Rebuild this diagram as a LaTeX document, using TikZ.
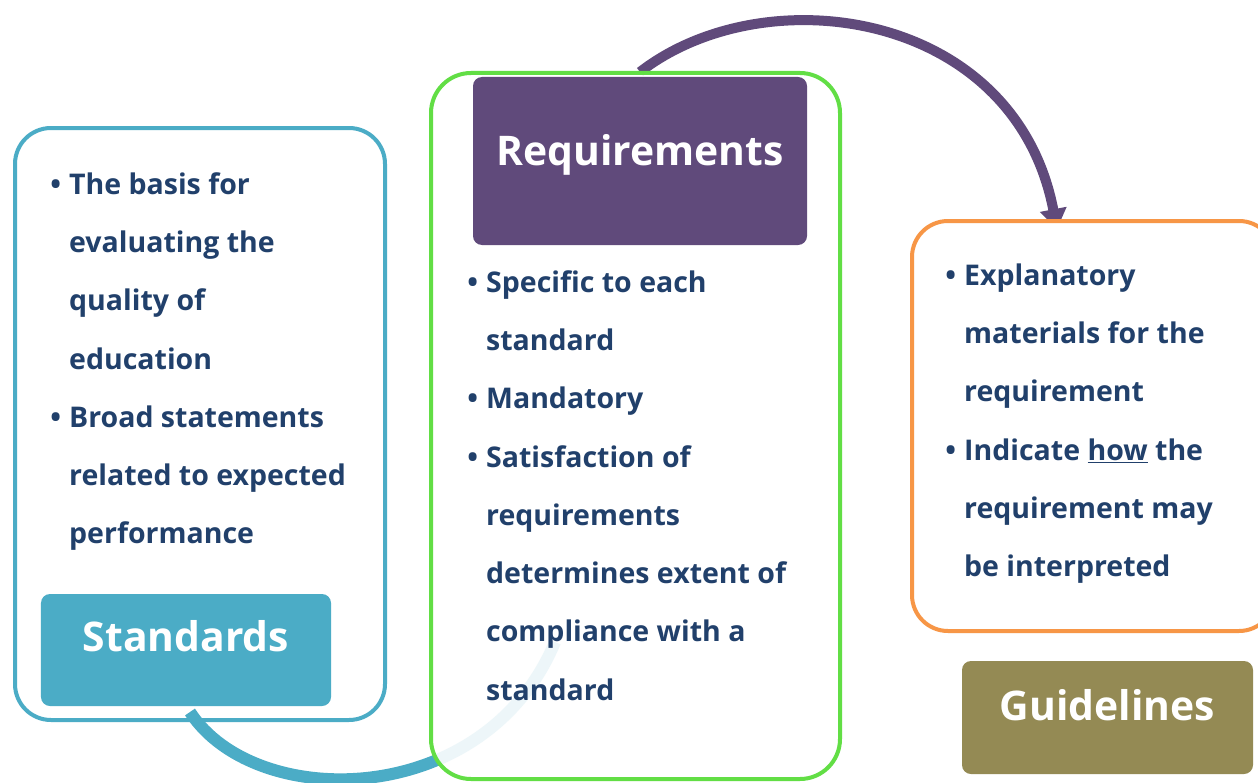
\documentclass[tikz,border=0pt]{standalone}
\usepackage{fontspec}
\setmainfont{Open Sans}
\usetikzlibrary{arrows.meta}
\definecolor{stdblue}{HTML}{4BACC6}
\definecolor{reqgreen}{HTML}{62DE45}
\definecolor{reqpurple}{HTML}{604A7B}
\definecolor{guiorange}{HTML}{F79646}
\definecolor{guiolive}{HTML}{948A54}
\definecolor{bodytext}{HTML}{21406B}
\newcommand{\blt}{\makebox[0pt][r]{\textbullet\hspace{8bp}}}
\newcommand{\firststrut}{\rule{0pt}{30bp}}
\begin{document}
\begin{tikzpicture}[x=1bp,y=-1bp,
  outerbox/.style={draw, line width=4bp, rounded corners=36bp},
  labelbox/.style={rounded corners=9bp, text=white, font=\fontsize{41}{41}\selectfont\bfseries, inner sep=0pt, align=center},
  bodytxt/.style={anchor=north west, align=left, text=bodytext, font=\fontsize{28.6}{58.5}\selectfont\bfseries, inner sep=0pt},
]
\useasboundingbox (0,0) rectangle (1258,783);
\clip (0,0) rectangle (1258,783);
\fill[white] (0,0) rectangle (1258,783);

% named anchor coordinates for the connectors
\coordinate (stdfoot) at (190,712);
\coordinate (reqin) at (555,642);
\coordinate (reqtop) at (640,72);
\coordinate (guitop) at (1057,229);

% blue connector Standards -> Requirements
\draw[stdblue, line width=12bp] (stdfoot) .. controls (255,812) and (485,810) .. (reqin);

% purple connector Requirements -> Guidelines
\draw[reqpurple, line width=10bp, -{Triangle[width=26bp,length=20bp]}]
  (reqtop) .. controls (765,-25) and (1015,10) .. (guitop);

% outer boxes
\draw[outerbox, stdblue] (15,128) rectangle (385,720);
\draw[outerbox, reqgreen, fill=white, fill opacity=0.9, rounded corners=40bp] (431,73) rectangle (840,779);
\draw[outerbox, guiorange, fill=white] (912,221) rectangle (1275,631);

% title boxes
\node[labelbox, fill=stdblue, minimum width=290bp, minimum height=112bp, text height=34bp, text depth=32bp] (std) at (186,650) {Standards};
\node[labelbox, fill=reqpurple, minimum width=334bp, minimum height=168bp, text height=34bp, text depth=26bp] (req) at (640,161) {Requirements};
\node[labelbox, fill=guiolive, minimum width=291bp, minimum height=113bp, text height=34bp, text depth=28bp] (gui) at (1107.5,717.5) {Guidelines};

% body texts
\node[bodytxt] (stdtext) at (69,164) {\firststrut\blt The basis for\\ evaluating the\\ quality of\\ education\\ \blt Broad statements\\ related to expected\\ performance};
\node[bodytxt] (reqtext) at (486,262) {\firststrut\blt Specific to each\\ standard\\ \blt Mandatory\\ \blt Satisfaction of\\ requirements\\ determines extent of\\ compliance with a\\ standard};
\node[bodytxt] (guitext) at (964,255) {\firststrut\blt Explanatory\\ materials for the\\ requirement\\ \blt Indicate \underline{how} the\\ requirement may\\ be interpreted};
\end{tikzpicture}
\end{document}
